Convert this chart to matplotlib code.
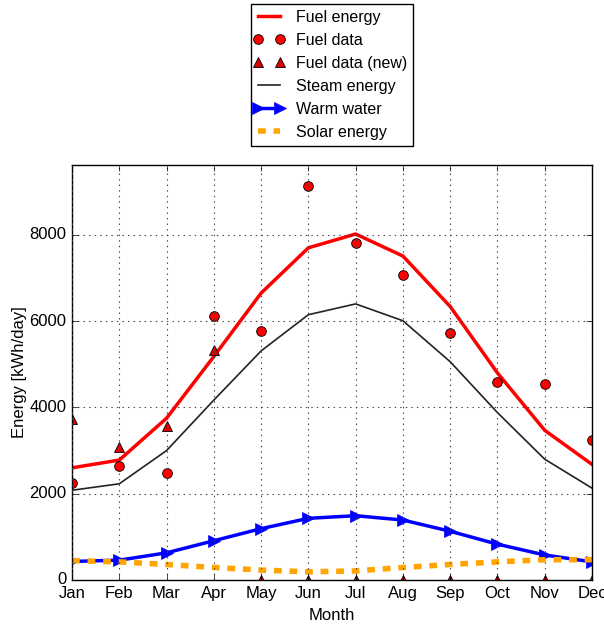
import matplotlib
matplotlib.use("Agg")
import matplotlib.pyplot as plt
from matplotlib.lines import Line2D
from matplotlib.legend_handler import HandlerLine2D
import numpy as np

plt.style.use("classic")
plt.rcParams["font.family"] = ["Liberation Sans", "DejaVu Sans"]

months = ["Jan", "Feb", "Mar", "Apr", "May", "Jun", "Jul", "Aug", "Sep", "Oct", "Nov", "Dec"]
fuel_energy = [2600, 2780, 3750, 5180, 6650, 7700, 8020, 7510, 6340, 4800, 3470, 2680]
fuel_data = [2240, 2650, 2480, 6110, 5780, 9140, 7820, 7070, 5730, 4600, 4550, 3240]
fuel_data_new = [3730, 3080, 3580, 5330, 0, 0, 0, 0, 0, 0, 0, 0]
steam_energy = [2080, 2230, 3000, 4170, 5310, 6150, 6400, 6010, 5060, 3880, 2800, 2130]
warm_water = [430, 460, 630, 910, 1190, 1430, 1490, 1390, 1130, 830, 580, 420]
solar_energy = [450, 420, 360, 290, 230, 190, 210, 290, 360, 420, 470, 470]

x = np.arange(len(months))

fig = plt.figure(figsize=(6.04, 6.25), dpi=100, facecolor="white")
ax = fig.add_axes([72/604, 45/625, 520/604, 415/625])
ax.set_facecolor("white")

ax.plot(x, fuel_energy, color="red", lw=2.5, label="Fuel energy")
ax.plot(x, fuel_data, "o", color="red", mec="black", mew=0.6, ms=7, label="Fuel data")
ax.plot(x, fuel_data_new, "^", color="#dd0000", mec="black", mew=0.6, ms=7, label="Fuel data (new)")
ax.plot(x, steam_energy, color="#222222", lw=1.2, label="Steam energy")
ax.plot(x, warm_water, color="blue", lw=2.5, marker=">", ms=8, mec="blue", label="Warm water")
ax.plot(x, solar_energy, color="orange", lw=4, ls="--", dashes=(5.6, 5.6), label="Solar energy")

ax.set_xlim(0, 11)
ax.set_ylim(0, 9620)
ax.set_xticks(x)
ax.set_xticklabels(months)
ax.set_yticks([0, 2000, 4000, 6000, 8000])
ax.grid(True, color="#444444", ls=":", lw=0.8)
ax.set_xlabel("Month")
ax.set_ylabel("Energy [kWh/day]", labelpad=2)

leg = ax.legend(loc="lower center", bbox_to_anchor=(0.5, 1.045), numpoints=2,
                fontsize=11.5, handlelength=1.5, handletextpad=0.9, borderaxespad=0,
                handler_map={Line2D: HandlerLine2D(marker_pad=0.05)})
leg.get_frame().set_facecolor("white")

fig.savefig("out.png", dpi=100, facecolor="white")
